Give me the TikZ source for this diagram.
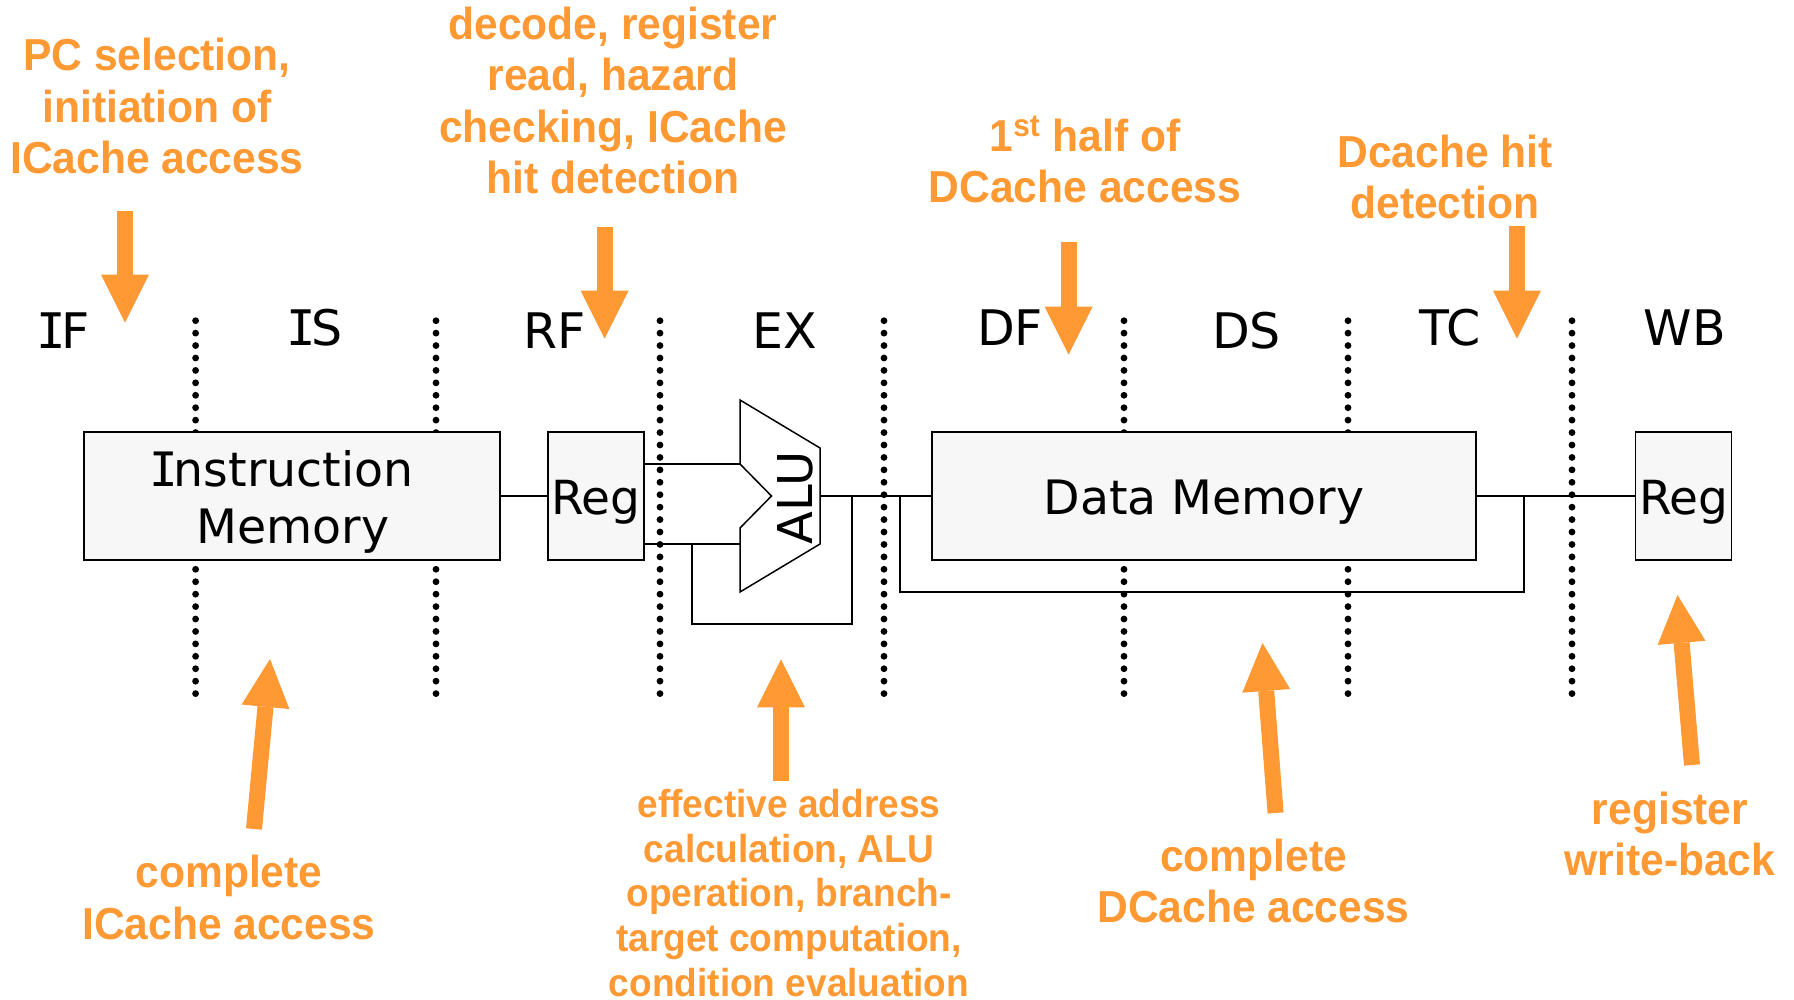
\documentclass[tikz,border=0pt]{standalone}
\usepackage{fontspec}
\setmainfont{DejaVu Sans}
\newfontfamily\armfont{Liberation Sans}[BoldFeatures={FakeStretch=0.95}]
\newfontfamily\serifI{DejaVu Sans Mono}
\newcommand{\bI}{{\serifI\kern-0.10em I\kern-0.10em}}
\usetikzlibrary{arrows.meta}
\definecolor{note}{HTML}{FF9933}
\definecolor{boxfill}{HTML}{F7F7F7}
\tikzset{
  stage/.style={font=\fontsize{24.5}{28}\selectfont,inner sep=0pt,text=black},
  unitbox/.style={draw=black,fill=boxfill,line width=.85pt,inner sep=0pt},
  unittext/.style={inner sep=0pt,font=\fontsize{23.7}{28.6}\selectfont,align=center},
  regtext/.style={inner sep=0pt,font=\fontsize{23.5}{28}\selectfont},
  wire/.style={draw=black,line width=.75pt,line join=miter},
  dots/.style={draw=black,line width=3.4pt,line cap=round,dash pattern=on 0pt off 6.215pt},
  noteL/.style={font=\armfont\bfseries\fontsize{22.4}{25.8}\selectfont,text=note,align=center,inner sep=0pt},
  noteS/.style={font=\armfont\bfseries\fontsize{19.5}{22.3}\selectfont,text=note,align=center,inner sep=0pt},
  pointer/.style={draw=note,line width=8pt,-{Triangle[length=24pt,width=24pt,line width=0pt,fill=note]}},
}
\begin{document}
\begin{tikzpicture}[x=.5pt,y=-.5pt]
\useasboundingbox (0,0) rectangle (1794,1000);
\fill[white] (0,0) rectangle (1794,1000);
% dotted stage dividers
\foreach \n/\x in {a/195.6,b/436,c/660,d/884,e/1124,f/1348,g/1572}{
  \coordinate (dt\n) at (\x,320.7);
  \coordinate (db\n) at (\x,694.5);
  \draw[dots] (dt\n) -- (db\n);
}
% stage names
\node[stage] (sIF) at (65.5,331) {\bI F};
\node[stage] (sIS) at (317,328) {\bI S};
\node[stage] (sRF) at (555,331) {RF};
\node[stage] (sEX) at (785,331) {EX};
\node[stage] (sDF) at (1010,328) {DF};
\node[stage] (sDS) at (1246.5,331) {DS};
\node[stage] (sTC) at (1450.5,328) {TC};
\node[stage] (sWB) at (1685,328) {WB};
% units
\node[unitbox,minimum width=208pt,minimum height=64pt] (imem) at (292,496) {};
\node[unitbox,minimum width=48pt,minimum height=64pt] (reg1) at (595.7,496) {};
\node[unitbox,minimum width=272pt,minimum height=64pt] (dmem) at (1204,496) {};
\node[unitbox,minimum width=48pt,minimum height=64pt] (reg2) at (1683.5,496) {};
\node[unittext] (imemt) at (293,502) {\bI nstruction\kern9pt\\Memory};
\node[regtext] (reg1t) at (596,502) {Reg};
\node[unittext] (dmemt) at (1204,502) {Data Memory};
\node[regtext] (reg2t) at (1684,502) {Reg};
% ALU
\coordinate (au) at (740,464);
\coordinate (al) at (740,544);
\coordinate (ao) at (820,496);
\coordinate (sp) at (692,544);
\coordinate (fb) at (852,496);
\coordinate (md) at (900,496);
\coordinate (tc) at (1524,496);
\draw[wire,fill=white] (740,400) -- (820,448) -- (820,544) -- (740,592) -- (al) -- (740,528) -- (771.5,496) -- (au) -- cycle;
\node[font=\fontsize{24}{28}\selectfont,rotate=90,inner sep=0pt] (alu) at (795,498) {ALU};
% wires
\draw[wire] (imem.east) -- (reg1.west);
\draw[wire] (reg1.east |- au) -- (au);
\draw[wire] (reg1.east |- al) -- (al);
\draw[wire] (ao) -- (dmem.west);
\draw[wire] (sp) -- (692,624) -- (852,624) -- (fb);
\draw[wire] (md) -- (900,592) -- (1524,592) -- (tc);
\draw[wire] (dmem.east) -- (reg2.west);
% annotations
\node[noteL] (n1) at (157,106) {PC selection,\\initiation of\\ICache access};
\node[noteL] (n2) at (613,100.5) {decode, register\\read, hazard\\checking, ICache\\hit detection};
\node[noteL] (n3) at (1085,159.5) {1\textsuperscript{st} half of\\DCache access};
\node[noteL] (n4) at (1445,177) {Dcache hit\\detection};
\node[noteL] (n5) at (229,897.5) {complete\\ICache access};
\node[noteS] (n6) at (789,893) {effective address\\calculation, ALU\\operation, branch-\\target computation,\\condition evaluation};
\node[noteL] (n7) at (1253.5,881) {complete\\DCache access};
\node[noteL] (n8) at (1670,834) {register\\write-back};
% pointers
\coordinate (p1a) at (125,210.7); \coordinate (p1b) at (125,322.7);
\coordinate (p2a) at (604.6,227); \coordinate (p2b) at (604.6,338.6);
\coordinate (p3a) at (1068.6,242.5); \coordinate (p3b) at (1068.6,354.6);
\coordinate (p4a) at (1517,226.5); \coordinate (p4b) at (1517,338.6);
\coordinate (p5a) at (254,829); \coordinate (p5b) at (270,659);
\coordinate (p6a) at (781,781); \coordinate (p6b) at (781,659.3);
\coordinate (p7a) at (1275.6,813); \coordinate (p7b) at (1262.5,643);
\coordinate (p8a) at (1692,765); \coordinate (p8b) at (1677.5,595);
\foreach \i in {1,...,8}{ \draw[pointer] (p\i a) -- (p\i b); }
\end{tikzpicture}
\end{document}
